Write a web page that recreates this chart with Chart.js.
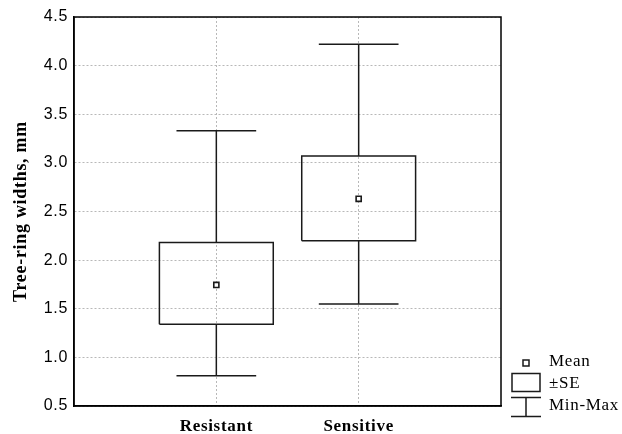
<!DOCTYPE html>
<html>
<head>
<meta charset="utf-8">
<script src="https://cdn.jsdelivr.net/npm/chart.js@4"></script>
<style>
  html, body { margin: 0; padding: 0; background: #fff; }
  #wrap { width: 622px; height: 434px; }
</style>
</head>
<body>
<div id="wrap"><canvas id="box"></canvas></div>
<script>
// values
var categories = ['Resistant', 'Sensitive'];
var means  = [1.745, 2.63];
var seLow  = [1.34, 2.20];
var seHigh = [2.18, 3.07];
var mins   = [0.81, 1.55];
var maxs   = [3.33, 4.22];
var yTicks = [0.5, 1.0, 1.5, 2.0, 2.5, 3.0, 3.5, 4.0, 4.5];

var ink = '#1a1a1a';
var serif = '"Liberation Serif", "Times New Roman", serif';
var boxHalf = 0.4, capHalf = 0.28;

function seg(pts, w) {
  return {
    type: 'scatter', showLine: true, data: pts,
    borderColor: ink, borderWidth: w || 1.5,
    pointRadius: 0, pointHoverRadius: 0, fill: false
  };
}

var datasets = [];
categories.forEach(function (name, i) {
  var c = i + 1;
  datasets.push(seg([{x: c, y: mins[i]}, {x: c, y: seLow[i]}]));
  datasets.push(seg([{x: c, y: seHigh[i]}, {x: c, y: maxs[i]}]));
  datasets.push(seg([{x: c - capHalf, y: mins[i]}, {x: c + capHalf, y: mins[i]}]));
  datasets.push(seg([{x: c - capHalf, y: maxs[i]}, {x: c + capHalf, y: maxs[i]}]));
  datasets.push(seg([
    {x: c - boxHalf, y: seLow[i]}, {x: c + boxHalf, y: seLow[i]},
    {x: c + boxHalf, y: seHigh[i]}, {x: c - boxHalf, y: seHigh[i]},
    {x: c - boxHalf, y: seLow[i]}
  ]));
});
datasets.push({
  type: 'scatter',
  data: means.map(function (m, i) { return {x: i + 1, y: m}; }),
  pointStyle: 'rect', pointRadius: 3.6, pointHoverRadius: 3.6,
  pointBackgroundColor: '#fff', pointBorderColor: ink, pointBorderWidth: 1.6
});

// frame round the plot + legend on the right
var extras = {
  id: 'extras',
  beforeDraw: function (chart) {
    // the original has loosely spaced lettering
    chart.ctx.letterSpacing = '0.7px';
  },
  afterDraw: function (chart) {
    var ctx = chart.ctx, a = chart.chartArea;
    ctx.save();
    ctx.strokeStyle = '#000';
    ctx.lineWidth = 1.5;
    ctx.strokeRect(a.left, a.top, a.right - a.left, a.bottom - a.top);

    ctx.strokeStyle = ink;
    ctx.lineWidth = 1.5;
    // mean
    ctx.fillStyle = '#fff';
    ctx.fillRect(523, 360, 6, 6);
    ctx.strokeRect(523, 360, 6, 6);
    // ±SE
    ctx.strokeRect(512, 373.5, 28, 18);
    // min-max
    ctx.beginPath();
    ctx.moveTo(511, 397.5); ctx.lineTo(541, 397.5);
    ctx.moveTo(526, 397.5); ctx.lineTo(526, 416.5);
    ctx.moveTo(511, 416.5); ctx.lineTo(541, 416.5);
    ctx.stroke();

    ctx.fillStyle = '#000';
    ctx.font = '17px ' + serif;
    ctx.textBaseline = 'middle';
    ctx.textAlign = 'left';
    ctx.fillText('Mean', 549, 362);
    ctx.fillText('±SE', 549, 384);
    ctx.fillText('Min-Max', 549, 406);
    ctx.restore();
  }
};

new Chart(document.getElementById('box'), {
  type: 'scatter',
  data: { datasets: datasets },
  options: {
    responsive: true,
    maintainAspectRatio: false,
    animation: false,
    layout: { padding: { top: 17, right: 121, left: 0, bottom: 0 } },
    plugins: { legend: { display: false }, tooltip: { enabled: false } },
    scales: {
      x: {
        type: 'linear', min: 0, max: 3,
        afterBuildTicks: function (s) { s.ticks = [{value: 1}, {value: 2}]; },
        afterFit: function (s) { s.height = 28; },
        ticks: {
          padding: 10, color: '#000',
          font: { family: serif, size: 17, weight: 'bold' },
          callback: function (v) { return categories[v - 1] || ''; }
        },
        grid: { color: '#b8b8b8', lineWidth: 1, drawTicks: false },
        border: { display: true, color: '#000', width: 1.5, dash: [2, 2] }
      },
      y: {
        min: 0.5, max: 4.5,
        afterBuildTicks: function (s) { s.ticks = yTicks.map(function (v) { return {value: v}; }); },
        afterFit: function (s) { s.width = 74; },
        ticks: {
          padding: 6, color: '#000',
          font: { family: '"Liberation Sans", Arial, sans-serif', size: 16 },
          callback: function (v) { return v.toFixed(1); }
        },
        grid: { color: '#b8b8b8', lineWidth: 1, drawTicks: false },
        border: { display: true, color: '#000', width: 1.5, dash: [2, 2] },
        title: {
          display: true, text: 'Tree-ring widths, mm', color: '#000',
          font: { family: serif, size: 18, weight: 'bold' },
          padding: { top: 11, bottom: 0 }
        }
      }
    }
  },
  plugins: [extras]
});
</script>
</body>
</html>
